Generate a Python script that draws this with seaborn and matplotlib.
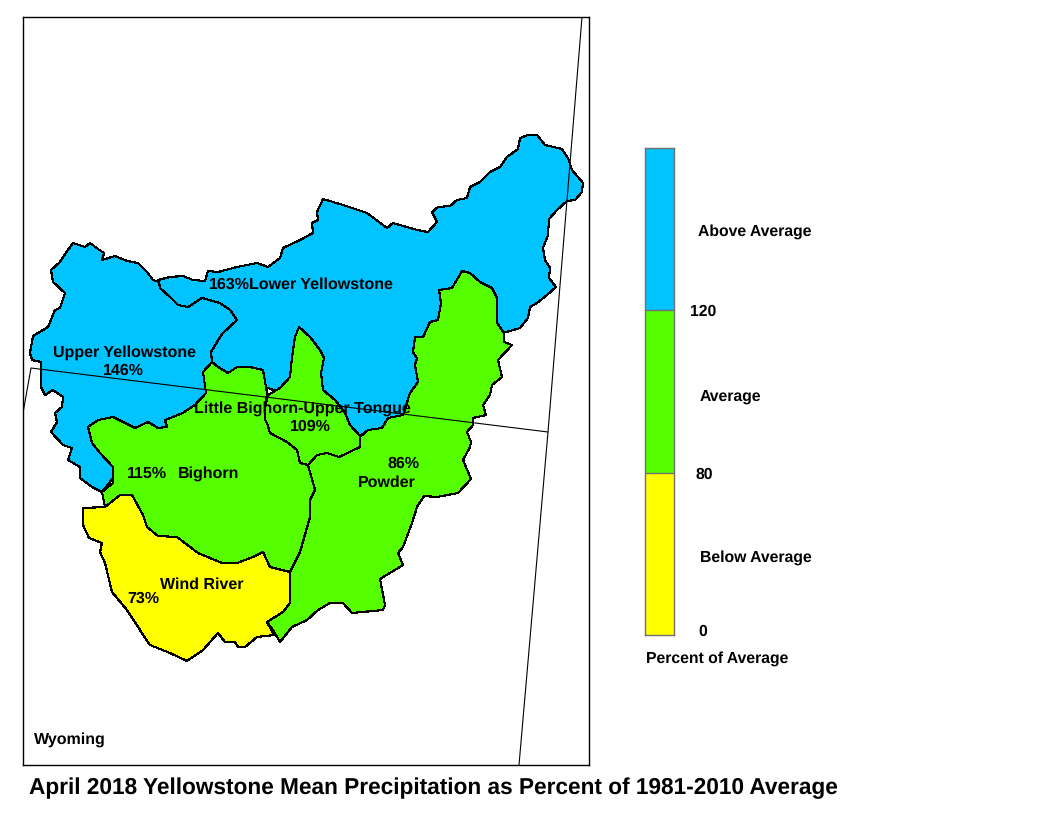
import numpy as np
import matplotlib
matplotlib.use('Agg')
import matplotlib.pyplot as plt
from matplotlib.colors import ListedColormap
import seaborn as sns

# Basin outlines (x, y in map units, y down)
upper_yellowstone = [(159,282),(153,280),(147,272),(138,263),(127,261),(115,256),(102,260),(104,253),(98,249),(90,243),(85,247),(73,243),(65,254),(60,262),(51,270),(53,282),(65,293),(60,308),(55,310),(48,327),(33,336),(30,353),(32,360),(41,362),(41,387),(45,395),(53,390),(63,397),(62,407),(55,413),(57,422),(51,432),(63,445),(72,448),(68,460),(80,467),(80,478),(92,487),(102,492),(113,478),(215,400),(212,362),(211,352),(217,342),(223,333),(237,320),(230,310),(220,303),(202,298),(188,307),(178,305),(170,297),(160,288)]
lower_yellowstone = [(159,282),(158,280),(170,277),(183,276),(193,280),(205,281),(208,271),(218,272),(237,267),(257,263),(268,267),(280,258),(283,248),(300,240),(313,233),(312,223),(318,220),(317,212),(323,199),(343,205),(367,213),(387,228),(393,223),(417,230),(428,232),(437,222),(432,212),(438,207),(450,206),(457,200),(467,198),(470,187),(480,182),(490,172),(500,167),(507,157),(518,149),(520,138),(528,135),(537,135),(545,145),(562,149),(568,158),(572,170),(583,183),(582,192),(575,200),(567,201),(557,210),(549,219),(548,235),(543,248),(545,260),(550,268),(549,278),(556,287),(547,295),(537,303),(530,307),(528,318),(520,328),(503,333),(450,350),(405,415),(388,418),(382,428),(368,430),(360,436),(350,425),(345,413),(335,405),(300,400),(260,385),(208,375),(212,362),(211,352),(217,342),(223,333),(237,320),(230,310),(220,303),(202,298),(188,307),(178,305),(170,297),(160,288)]
powder = [(462,271),(470,273),(480,282),(492,288),(497,298),(497,323),(504,333),(504,342),(512,345),(498,360),(502,377),(492,385),(490,395),(483,405),(486,415),(473,418),(473,425),(467,432),(471,442),(470,447),(463,460),(471,479),(458,493),(437,497),(424,496),(417,507),(412,523),(403,547),(398,553),(403,565),(380,579),(385,605),(383,610),(352,613),(343,603),(330,603),(318,610),(307,620),(292,627),(280,642),(273,630),(267,622),(283,612),(290,603),(290,572),(300,552),(310,517),(310,500),(315,490),(308,465),(317,455),(327,453),(339,457),(360,447),(360,437),(368,430),(382,428),(388,418),(403,415),(410,393),(418,382),(415,365),(417,358),(413,352),(415,337),(423,337),(430,322),(438,320),(441,303),(439,290),(452,288)]
tongue = [(299,327),(310,337),(320,350),(324,358),(321,373),(323,390),(335,400),(345,413),(350,425),(360,436),(360,447),(339,457),(327,453),(317,455),(308,465),(300,463),(297,450),(287,442),(270,433),(267,423),(265,420),(265,407),(268,395),(280,388),(290,377),(292,357),(295,337)]
bighorn = [(212,362),(218,367),(228,373),(237,367),(250,367),(263,370),(267,393),(265,407),(265,420),(267,423),(270,433),(287,442),(297,450),(300,463),(308,465),(315,490),(310,500),(310,517),(300,552),(290,572),(270,567),(263,552),(253,557),(237,563),(222,563),(198,553),(177,537),(158,536),(147,527),(143,515),(132,495),(120,495),(105,507),(102,492),(113,483),(113,467),(100,453),(92,443),(88,427),(98,420),(113,417),(135,428),(148,422),(158,428),(167,427),(165,420),(183,413),(195,405),(206,393),(203,372)]
wind_river = [(83,508),(105,507),(120,495),(132,495),(143,515),(147,527),(158,536),(177,537),(198,553),(222,563),(237,563),(253,557),(263,552),(270,567),(290,572),(290,603),(283,612),(267,622),(274,635),(257,637),(245,647),(238,647),(235,642),(225,642),(218,633),(203,650),(187,661),(170,653),(150,645),(140,630),(127,610),(112,592),(105,563),(100,552),(102,543),(89,538),(83,525)]

state_south = [(23,413),(31,368),(548,432)]
state_east = [(582,17),(548,432),(519,765)]

BLUE = '#00c3ff'
GREEN = '#55ff00'
YELLOW = '#ffff00'

basins = [
    (upper_yellowstone, BLUE),
    (lower_yellowstone, BLUE),
    (powder, GREEN),
    (bighorn, GREEN),
    (tongue, GREEN),
    (wind_river, YELLOW),
]

map_labels = [
    ('163%', 229, 285), ('Lower Yellowstone', 321, 285),
    ('Upper Yellowstone', 125, 353), ('146%', 123, 371),
    ('Little Bighorn-Upper Tongue', 302, 409), ('109%', 310, 427),
    ('115%', 147, 474), ('Bighorn', 209, 474),
    ('86%', 404, 464), ('Powder', 387, 483),
    ('Wind River', 202, 585), ('73%', 143, 599),
]

legend_bands = [[2], [1], [0]]
legend_colors = [YELLOW, GREEN, BLUE]
legend_labels = [
    ('Above Average', 698, 232), ('120', 690, 312), ('Average', 700, 397),
    ('80', 695, 475), ('Below Average', 700, 558), ('0', 698, 632),
    ('Percent of Average', 646, 659),
]

title = 'April 2018 Yellowstone Mean Precipitation as Percent of 1981-2010 Average'

sns.set_style('white')
plt.rcParams['font.family'] = ['Liberation Sans', 'DejaVu Sans']
plt.rcParams['font.weight'] = 'bold'
plt.rcParams['text.color'] = 'black'
plt.rcParams['text.hinting'] = 'no_hinting'

W, H = 1056, 816
fig = plt.figure(figsize=(W / 100, H / 100), dpi=100)

def px_axes(left, top, right, bottom):
    return fig.add_axes([left / W, 1 - bottom / H, (right - left) / W, (bottom - top) / H])

# map frame
ax = px_axes(23, 17, 589, 765)
ax.set_xlim(23, 589)
ax.set_ylim(765, 17)
ax.set_xticks([])
ax.set_yticks([])
for spine in ax.spines.values():
    spine.set_visible(True)
    spine.set_color('black')
    spine.set_linewidth(1.0)

# aliased edges give the same stair-stepped look as the original map
for outline, color in basins:
    xs, ys = zip(*outline)
    ax.fill(xs, ys, facecolor=color, edgecolor='black', linewidth=0.8, antialiased=False, zorder=2)

for line in (state_south, state_east):
    xs, ys = zip(*line)
    ax.plot(xs, ys, color='black', linewidth=0.8, zorder=3)

for text, x, y in map_labels:
    ax.text(x, y, text, ha='center', va='center', fontsize=11.5, zorder=4)
ax.text(34, 740, 'Wyoming', ha='left', va='center', fontsize=11.5)

# legend bar
cax = px_axes(645, 148, 674, 635)
sns.heatmap(np.array(legend_bands), ax=cax, cmap=ListedColormap(legend_colors), vmin=0, vmax=2,
            cbar=False, xticklabels=False, yticklabels=False)
for spine in cax.spines.values():
    spine.set_visible(True)
    spine.set_color('#707070')
    spine.set_linewidth(1.0)
cax.hlines([1, 2], 0, 1, color='#707070', linewidth=1.0)

for text, x, y in legend_labels:
    fig.text(x / W, 1 - y / H, text, ha='left', va='center', fontsize=11.35)

fig.text(29 / W, 1 - 788 / H, title, ha='left', va='center', fontsize=16.27)

fig.savefig('out.png', dpi=100)
